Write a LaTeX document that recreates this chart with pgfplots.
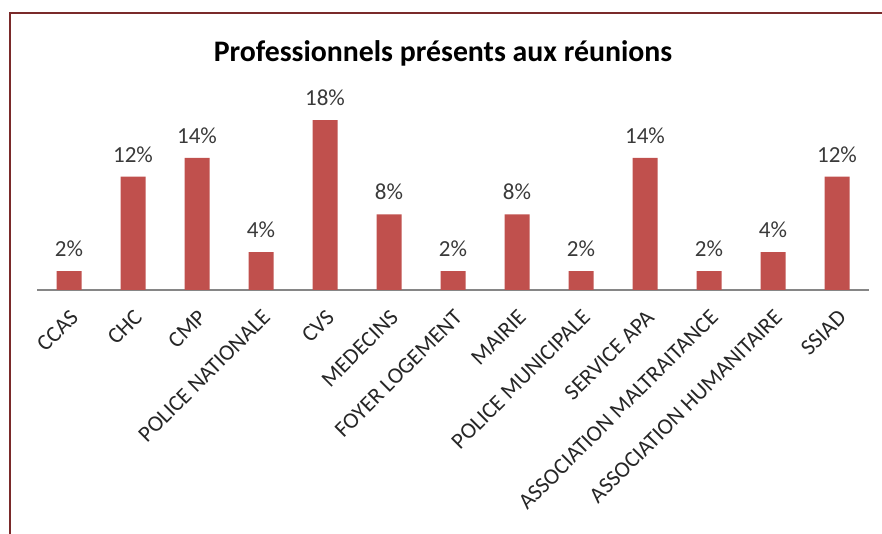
\documentclass[border=0pt]{standalone}
\usepackage{fontspec}
\setmainfont{Carlito}
\usepackage{pgfplots}
\pgfplotsset{compat=1.18}
\definecolor{barred}{HTML}{C0504D}
\definecolor{framered}{HTML}{7A2A2A}
\definecolor{baseline}{HTML}{868686}
\definecolor{labeltext}{HTML}{3A3A3A}
\begin{document}
\begin{tikzpicture}
\begin{axis}[
    at={(18.5pt,122pt)}, anchor=south west,
    scale only axis,
    width=416pt, height=94.4pt,
    ybar, bar width=12.5pt,
    xmin=-0.5, xmax=12.5, ymin=0, ymax=20,
    axis x line=bottom, axis y line=none,
    x axis line style={-, draw=baseline, line width=0.75pt},
    major tick length=0pt,
    xtick={0,...,12},
    xticklabels={CCAS, CHC, CMP, POLICE NATIONALE, CVS, MEDECINS, FOYER LOGEMENT, MAIRIE, POLICE MUNICIPALE, SERVICE APA, ASSOCIATION MALTRAITANCE, ASSOCIATION HUMANITAIRE, SSIAD},
    xticklabel style={rotate=45, anchor=north east, inner sep=0pt, font=\fontsize{11.3}{13}\selectfont, text=black!85},
    xticklabel shift=9pt,
    ytick=\empty,
    clip=false,
    /pgf/number format/assume math mode=true,
    nodes near coords={\pgfmathprintnumber{\pgfplotspointmeta}\%},
    every node near coord/.append style={inner sep=0pt, yshift=7pt, font=\fontsize{11.5}{13}\selectfont, text=labeltext},
]
\addplot[fill=barred, draw=none] coordinates {
    (0,2) (1,12) (2,14) (3,4) (4,18) (5,8) (6,2)
    (7,8) (8,2) (9,14) (10,2) (11,4) (12,12)
};
\end{axis}
\node[anchor=base, font=\fontsize{14.9}{18}\selectfont\bfseries] at (221.5pt,236pt) {Professionnels présents aux réunions};
\draw[framered, line width=1.2pt] (5pt,0) -- (5pt,260.5pt) -- (441pt,260.5pt);
\pgfresetboundingbox
\path[use as bounding box] (0,0) rectangle (441pt,267pt);
\end{tikzpicture}
\end{document}
